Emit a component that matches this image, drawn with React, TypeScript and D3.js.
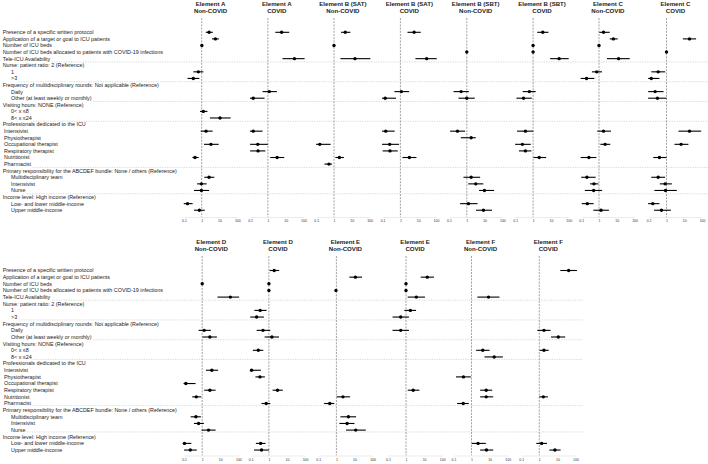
import { useEffect, useRef } from 'react'
import * as d3 from 'd3'

// each entry: [row, estimate, lower CI, upper CI]
type Est = [number, number, number, number]

const rowLabels = [
  'Presence of a specific written protocol',
  'Application of a target or goal to ICU patients',
  'Number of ICU beds',
  'Number of ICU beds allocated to patients with COVID-19 infections',
  'Tele-ICU Availability',
  'Nurse: patient ratio: 2 (Reference)',
  '1',
  '>3',
  'Frequency of multidisciplinary rounds: Not applicable (Reference)',
  'Daily',
  'Other (at least weekly or monthly)',
  'Visiting hours: NONE (Reference)',
  '0< x ≤8',
  '8< x ≤24',
  'Professionals dedicated to the ICU',
  'Intensivist',
  'Physiotherapist',
  'Occupational therapist',
  'Respiratory therapist',
  'Nutritionist',
  'Pharmacist',
  'Primary responsibility for the ABCDEF bundle: None / others (Reference)',
  'Multidisciplinary team',
  'Intensivist',
  'Nurse',
  'Income level: High income (Reference)',
  'Low- and lower middle-income',
  'Upper middle-income',
]
const rowIndent = [0, 0, 0, 0, 0, 0, 2, 2, 0, 2, 2, 0, 2, 2, 0, 1, 1, 1, 1, 1, 1, 0, 2, 2, 2, 0, 2, 2]
const groupBreaks = [4.5, 7.5, 10.5, 13.5, 20.5, 24.5]
const tickValues = [0.1, 1, 10, 100]
const tickLabels = ['0.1', '1', '10', '100']

const topTitles = [
  ['Element A', 'Non-COVID'],
  ['Element A', 'COVID'],
  ['Element B (SAT)', 'Non-COVID'],
  ['Element B (SAT)', 'COVID'],
  ['Element B (SBT)', 'Non-COVID'],
  ['Element B (SBT)', 'COVID'],
  ['Element C', 'Non-COVID'],
  ['Element C', 'COVID'],
]
const bottomTitles = [
  ['Element D', 'Non-COVID'],
  ['Element D', 'COVID'],
  ['Element E', 'Non-COVID'],
  ['Element E', 'COVID'],
  ['Element F', 'Non-COVID'],
  ['Element F', 'COVID'],
]

const elementANonCovid: Est[] = [
  [0, 2.6, 1.7, 4.2],
  [1, 5.9, 3.8, 9.2],
  [2, 1.02, 0.98, 1.06],
  [6, 0.65, 0.34, 1.24],
  [7, 0.34, 0.16, 0.74],
  [12, 1.24, 0.8, 2.1],
  [13, 10.7, 2.9, 42],
  [15, 1.75, 0.88, 4.1],
  [17, 3.3, 1.35, 9.0],
  [19, 0.42, 0.3, 0.68],
  [22, 2.6, 1.4, 5.1],
  [23, 0.96, 0.55, 1.9],
  [24, 0.96, 0.37, 2.6],
  [26, 0.16, 0.098, 0.31],
  [27, 0.74, 0.37, 1.5],
]
const elementACovid: Est[] = [
  [0, 5.9, 2.6, 15.8],
  [4, 31, 6.6, 115],
  [9, 1.2, 0.5, 3.2],
  [10, 0.15, 0.098, 0.65],
  [15, 0.15, 0.098, 0.5],
  [17, 0.27, 0.1, 1.0],
  [18, 0.28, 0.1, 0.72],
  [19, 3.3, 1.35, 8.3],
]
const elementBSatNonCovid: Est[] = [
  [0, 4.3, 2.5, 8.3],
  [2, 1.0, 0.97, 1.03],
  [4, 15, 2.3, 110],
  [17, 0.16, 0.098, 0.65],
  [19, 2.0, 1.19, 3.6],
  [20, 0.52, 0.29, 0.77],
]
const elementBSatCovid: Est[] = [
  [0, 5.9, 2.5, 13.9],
  [4, 30, 7, 110],
  [9, 1.14, 0.46, 3.1],
  [10, 0.14, 0.093, 0.57],
  [15, 0.15, 0.093, 0.48],
  [17, 0.25, 0.093, 0.84],
  [18, 0.26, 0.1, 0.71],
  [19, 3.2, 1.3, 8.0],
]
const elementBSbtNonCovid: Est[] = [
  [3, 1.0, 0.97, 1.03],
  [9, 0.48, 0.18, 1.3],
  [10, 1.0, 0.34, 2.8],
  [15, 0.3, 0.115, 0.8],
  [16, 1.75, 0.46, 3.2],
  [22, 1.75, 0.65, 5.6],
  [23, 3.2, 1.2, 8.5],
  [24, 9.8, 4.9, 34],
  [26, 1.24, 0.42, 4.0],
  [27, 8.6, 3.3, 26],
]
const elementBSbtCovid: Est[] = [
  [0, 3.5, 1.7, 7.3],
  [2, 1.0, 0.97, 1.03],
  [3, 1.0, 0.97, 1.03],
  [4, 29, 9, 100],
  [9, 0.62, 0.26, 1.4],
  [10, 0.29, 0.115, 0.84],
  [15, 0.37, 0.126, 1.04],
  [17, 0.25, 0.098, 0.74],
  [18, 0.37, 0.16, 0.8],
  [19, 2.2, 1.04, 5.4],
]
const elementCNonCovid: Est[] = [
  [0, 1.8, 1.04, 4.0],
  [1, 6.4, 4.0, 11.2],
  [2, 1.0, 0.97, 1.03],
  [4, 12.7, 2.8, 53],
  [6, 0.74, 0.4, 1.47],
  [7, 0.2, 0.093, 0.55],
  [15, 1.8, 0.8, 4.7],
  [17, 2.2, 1.19, 4.3],
  [19, 0.27, 0.093, 0.71],
  [22, 0.21, 0.1, 0.65],
  [23, 0.52, 0.31, 0.92],
  [24, 0.5, 0.16, 1.5],
  [26, 0.22, 0.107, 0.5],
  [27, 1.3, 0.48, 3.6],
]
const elementCCovid: Est[] = [
  [1, 19.6, 8.3, 46],
  [3, 1.0, 0.97, 1.03],
  [6, 0.34, 0.14, 0.84],
  [7, 0.14, 0.093, 0.4],
  [9, 0.23, 0.093, 0.68],
  [10, 0.31, 0.093, 1.0],
  [15, 19.6, 4.7, 89],
  [17, 6.6, 2.8, 17],
  [19, 0.4, 0.18, 1.0],
  [22, 0.34, 0.14, 0.84],
  [23, 0.84, 0.42, 2.0],
  [24, 0.88, 0.21, 3.8],
  [26, 0.17, 0.093, 0.4],
  [27, 0.52, 0.2, 1.75],
]
const elementDNonCovid: Est[] = [
  [2, 1.0, 0.97, 1.03],
  [4, 36, 7, 110],
  [9, 1.29, 0.63, 3.0],
  [10, 2.65, 1.04, 6.5],
  [15, 3.4, 1.6, 7.6],
  [17, 0.125, 0.093, 0.43],
  [18, 2.65, 1.29, 5.5],
  [19, 0.47, 0.28, 0.88],
  [22, 0.45, 0.23, 0.84],
  [23, 0.63, 0.35, 1.24],
  [24, 2.24, 0.92, 5.5],
  [26, 0.105, 0.085, 0.25],
  [27, 0.22, 0.1, 0.5],
]
const elementDCovid: Est[] = [
  [0, 1.97, 1.09, 3.7],
  [2, 1.0, 0.97, 1.03],
  [3, 1.0, 0.97, 1.03],
  [6, 0.33, 0.16, 0.74],
  [7, 0.21, 0.093, 0.53],
  [9, 0.47, 0.21, 1.19],
  [10, 1.46, 0.58, 3.6],
  [12, 0.26, 0.13, 0.49],
  [15, 0.11, 0.09, 0.36],
  [16, 0.32, 0.18, 0.6],
  [18, 3.0, 1.6, 5.9],
  [20, 0.71, 0.39, 1.19],
  [26, 0.35, 0.19, 0.65],
  [27, 0.39, 0.15, 1.0],
]
const elementENonCovid: Est[] = [
  [1, 11.2, 5.2, 26],
  [3, 0.95, 0.92, 0.98],
  [19, 2.3, 1.04, 5.7],
  [20, 0.43, 0.21, 0.77],
  [22, 4.6, 1.66, 12.2],
  [23, 3.9, 1.46, 9.9],
  [24, 11.7, 3.4, 42],
]
const elementECovid: Est[] = [
  [1, 15, 6.5, 35],
  [2, 1.0, 0.97, 1.03],
  [3, 1.0, 0.97, 1.03],
  [4, 3.7, 1.24, 11.2],
  [6, 1.74, 0.81, 3.6],
  [7, 0.51, 0.18, 1.46],
  [9, 0.51, 0.18, 1.46],
  [18, 2.5, 1.24, 5.5],
]
const elementFNonCovid: Est[] = [
  [4, 8.7, 2.1, 35],
  [12, 4.2, 1.8, 9.9],
  [13, 17.9, 5.2, 54],
  [16, 0.36, 0.14, 0.92],
  [18, 6.5, 3.0, 13.9],
  [19, 6.5, 3.0, 15.8],
  [20, 0.35, 0.16, 0.71],
  [26, 2.3, 1.04, 6.2],
  [27, 6.7, 3.0, 15.8],
]
const elementFCovid: Est[] = [
  [0, 42, 14.5, 120],
  [9, 1.81, 0.78, 4.2],
  [10, 11.2, 4.4, 27],
  [12, 1.81, 1.04, 3.3],
  [19, 1.66, 1.0, 3.0],
  [26, 1.35, 0.68, 2.65],
  [27, 7.3, 3.6, 15],
]

const blocks = [
  {
    titles: topTitles,
    series: [
      elementANonCovid, elementACovid, elementBSatNonCovid, elementBSatCovid,
      elementBSbtNonCovid, elementBSbtCovid, elementCNonCovid, elementCCovid,
    ],
    refs: [201.7, 267.9, 334.0, 400.4, 466.8, 533.1, 599.0, 666.5],
    decade: 17.8,
    rowStart: 32.3,
    rowStep: 6.59,
    titleY: [6.4, 13.1],
    refTop: 18,
    axisY: 217,
    lineEnd: 708,
  },
  {
    titles: bottomTitles,
    series: [
      elementDNonCovid, elementDCovid, elementENonCovid,
      elementECovid, elementFNonCovid, elementFCovid,
    ],
    refs: [202.2, 268.9, 336.4, 406.0, 471.5, 539.3],
    decade: 18.1,
    rowStart: 270.5,
    rowStep: 6.65,
    titleY: [243.8, 251.1],
    refTop: 256,
    axisY: 455.5,
    lineEnd: 583,
  },
]

const indentX = [2.7, 4, 11]
const FONT = '"Liberation Sans", Arial, sans-serif'

export default function App() {
  const svgRef = useRef<SVGSVGElement | null>(null)

  useEffect(() => {
    if (!svgRef.current) return
    const svg = d3.select(svgRef.current)
    svg.selectAll('*').remove()

    blocks.forEach((b) => {
      const g = svg.append('g')
      const rowY = (i: number) => b.rowStart + i * b.rowStep

      // row labels
      const labels = g
        .selectAll('text.lbl')
        .data(rowLabels)
        .enter()
        .append('text')
        .attr('class', 'lbl')
        .attr('x', (_d, i) => indentX[rowIndent[i]])
        .attr('y', (_d, i) => rowY(i))
        .attr('dy', '0.35em')
        .style('font-family', FONT)
        .style('font-size', '5.4px')
        .style('fill', '#222')
        .text((d) => d)

      // group separators start where the label above ends
      const nodes = labels.nodes() as SVGTextElement[]
      groupBreaks.forEach((br) => {
        const above = Math.floor(br)
        const x0 = indentX[rowIndent[above]] + nodes[above].getComputedTextLength() + 1.5
        const y = b.rowStart + br * 6.59
        g.append('line')
          .attr('x1', x0)
          .attr('x2', b.lineEnd)
          .attr('y1', y)
          .attr('y2', y)
          .attr('stroke', '#bdbdbd')
          .attr('stroke-width', 0.6)
          .attr('stroke-dasharray', '1.2,1.2')
      })

      b.series.forEach((data, p) => {
        const ref = b.refs[p]
        const x = d3
          .scaleLog()
          .domain([0.1, 100])
          .range([ref - b.decade, ref + 2 * b.decade])

        // panel title
        const cx = (x(0.1) + x(100)) / 2
        b.titles[p].forEach((t, k) => {
          g.append('text')
            .attr('x', cx)
            .attr('y', b.titleY[k])
            .attr('text-anchor', 'middle')
            .style('font-family', FONT)
            .style('font-size', '6.1px')
            .style('font-weight', '700')
            .style('fill', '#222')
            .text(t)
        })

        // reference line at 1
        g.append('line')
          .attr('x1', x(1))
          .attr('x2', x(1))
          .attr('y1', b.refTop)
          .attr('y2', b.axisY)
          .attr('stroke', '#7a7a7a')
          .attr('stroke-width', 0.7)
          .attr('stroke-dasharray', '2,1.2')

        // x axis
        const axis = g
          .append('g')
          .attr('transform', `translate(0,${b.axisY})`)
          .call(
            d3.axisBottom(x)
              .tickValues(tickValues)
              .tickFormat((_d, i) => tickLabels[i])
              .tickSize(0)
              .tickPadding(3)
          )
        axis.select('.domain').attr('stroke', '#dedede').attr('stroke-width', 0.6)
        axis.selectAll('text')
          .style('font-family', FONT)
          .style('font-size', '3.5px')
          .style('fill', '#333')

        // confidence intervals
        g.selectAll(null)
          .data(data)
          .enter()
          .append('line')
          .attr('x1', (d) => x(d[2]))
          .attr('x2', (d) => x(d[3]))
          .attr('y1', (d) => rowY(d[0]))
          .attr('y2', (d) => rowY(d[0]))
          .attr('stroke', '#000')
          .attr('stroke-width', 1.1)

        // point estimates
        g.selectAll(null)
          .data(data)
          .enter()
          .append('circle')
          .attr('cx', (d) => x(d[1]))
          .attr('cy', (d) => rowY(d[0]))
          .attr('r', 1.7)
          .attr('fill', '#000')
      })
    })
  }, [])

  return (
    <svg
      ref={svgRef}
      width={708}
      height={464}
      style={{ position: 'absolute', left: 0, top: 0, background: '#fff', display: 'block' }}
    />
  )
}
